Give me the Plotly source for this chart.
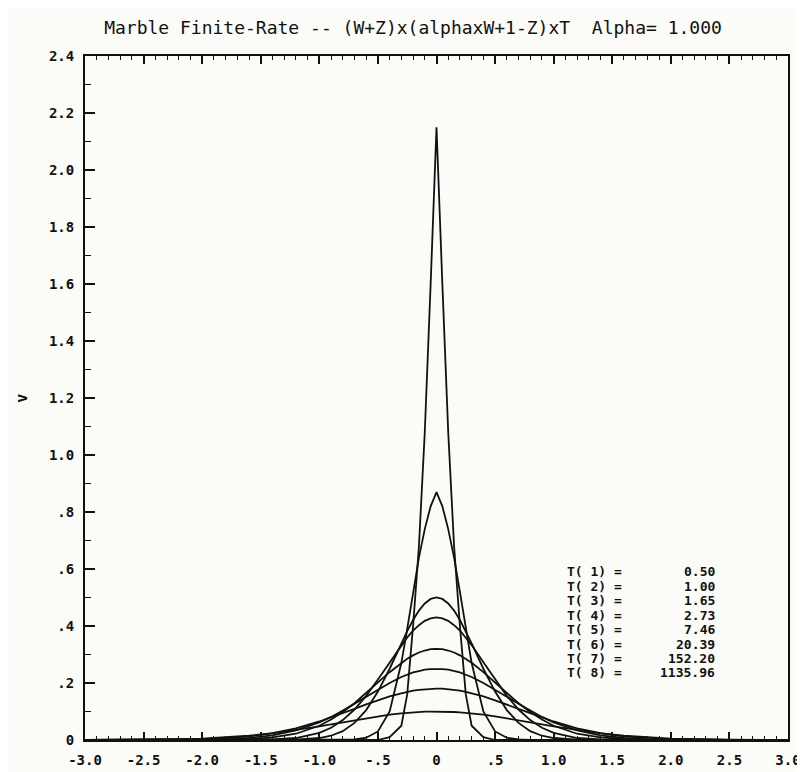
import plotly.graph_objects as go

# ---------------- data ----------------
X = [-3.0, -2.5, -2.0, -1.8, -1.6, -1.4, -1.2, -1.0, -0.9, -0.8, -0.7, -0.6, -0.5, -0.4,
     -0.3, -0.25, -0.2, -0.15, -0.1, -0.05, 0.0, 0.05, 0.1, 0.15, 0.2, 0.25, 0.3, 0.4,
     0.5, 0.6, 0.7, 0.8, 0.9, 1.0, 1.2, 1.4, 1.6, 1.8, 2.0, 2.5, 3.0]

V1 = [0, 0, 0, 0, 0, 0, 0, 0, 0, 0, 0, 0, 0.0, 0.01, 0.05, 0.16, 0.40, 0.68, 1.08, 1.60,
      2.15,
      1.60, 1.08, 0.68, 0.40, 0.16, 0.05, 0.01, 0.0, 0, 0, 0, 0, 0, 0, 0, 0, 0, 0, 0, 0]
V2 = [0, 0, 0, 0, 0, 0, 0, 0, 0, 0, 0.002, 0.008, 0.03, 0.10, 0.27, 0.39, 0.52, 0.64, 0.74, 0.82,
      0.87,
      0.82, 0.74, 0.64, 0.52, 0.39, 0.27, 0.10, 0.03, 0.008, 0.002, 0, 0, 0, 0, 0, 0, 0, 0, 0, 0]
V3 = [0, 0, 0, 0, 0, 0, 0.001, 0.007, 0.015, 0.031, 0.060, 0.105, 0.170, 0.250, 0.339, 0.382, 0.421, 0.454, 0.479, 0.495,
      0.50,
      0.495, 0.479, 0.454, 0.421, 0.382, 0.339, 0.250, 0.170, 0.105, 0.060, 0.031, 0.015, 0.007, 0.001, 0, 0, 0, 0, 0, 0]
V4 = [0, 0, 0, 0, 0, 0.002, 0.007, 0.025, 0.043, 0.070, 0.107, 0.155, 0.212, 0.273, 0.333, 0.360, 0.384, 0.403, 0.418, 0.427,
      0.43,
      0.427, 0.418, 0.403, 0.384, 0.360, 0.333, 0.273, 0.212, 0.155, 0.107, 0.070, 0.043, 0.025, 0.007, 0.002, 0, 0, 0, 0, 0]
V5 = [0, 0, 0, 0.001, 0.003, 0.009, 0.022, 0.050, 0.072, 0.098, 0.129, 0.164, 0.202, 0.238, 0.271, 0.285, 0.297, 0.307, 0.314, 0.319,
      0.32,
      0.319, 0.314, 0.307, 0.297, 0.285, 0.271, 0.238, 0.202, 0.164, 0.129, 0.098, 0.072, 0.050, 0.022, 0.009, 0.003, 0.001, 0, 0, 0]
V6 = [0, 0, 0.001, 0.003, 0.007, 0.016, 0.034, 0.062, 0.081, 0.103, 0.127, 0.152, 0.177, 0.200, 0.221, 0.229, 0.237, 0.242, 0.247, 0.249,
      0.25,
      0.249, 0.247, 0.242, 0.237, 0.229, 0.221, 0.200, 0.177, 0.152, 0.127, 0.103, 0.081, 0.062, 0.034, 0.016, 0.007, 0.003, 0.001, 0, 0]
V7 = [0, 0.0003, 0.003, 0.007, 0.013, 0.024, 0.041, 0.065, 0.079, 0.094, 0.109, 0.125, 0.139, 0.153, 0.164, 0.169, 0.173, 0.176, 0.178, 0.180,
      0.18,
      0.180, 0.178, 0.176, 0.173, 0.169, 0.164, 0.153, 0.139, 0.125, 0.109, 0.094, 0.079, 0.065, 0.041, 0.024, 0.013, 0.007, 0.003, 0.0003, 0]
V8 = [0.0001, 0.0010, 0.0051, 0.0090, 0.0149, 0.0233, 0.0343, 0.0475, 0.0548, 0.0621, 0.0695, 0.0765, 0.0830, 0.0888, 0.0935, 0.0955, 0.0971, 0.0983, 0.0993, 0.0998,
      0.10,
      0.0998, 0.0993, 0.0983, 0.0971, 0.0955, 0.0935, 0.0888, 0.0830, 0.0765, 0.0695, 0.0621, 0.0548, 0.0475, 0.0343, 0.0233, 0.0149, 0.0090, 0.0051, 0.0010, 0.0001]

SERIES = [V1, V2, V3, V4, V5, V6, V7, V8]
T_VALUES = [0.50, 1.00, 1.65, 2.73, 7.46, 20.39, 152.20, 1135.96]

X_TICKS = [-3.0, -2.5, -2.0, -1.5, -1.0, -0.5, 0.0, 0.5, 1.0, 1.5, 2.0, 2.5, 3.0]
X_TICK_TEXT = ["-3.0", "-2.5", "-2.0", "-1.5", "-1.0", "-.5", "0", ".5", "1.0", "1.5", "2.0", "2.5", "3.0"]
Y_TICKS = [0.0, 0.2, 0.4, 0.6, 0.8, 1.0, 1.2, 1.4, 1.6, 1.8, 2.0, 2.2, 2.4]
Y_TICK_TEXT = ["0", ".2", ".4", ".6", ".8", "1.0", "1.2", "1.4", "1.6", "1.8", "2.0", "2.2", "2.4"]

TITLE = "Marble Finite-Rate -- (W+Z)x(alphaxW+1-Z)xT  Alpha= 1.000"
Y_TITLE = "v"

# ---------------- figure ----------------
W, H = 805, 772
ML, MR, MT, MB = 77, 16, 48, 29
BG = "#fbfbf7"
INK = "#111111"
MONO = "DejaVu Sans Mono"

fig = go.Figure()
for vals in SERIES:
    fig.add_trace(go.Scatter(x=X, y=vals, mode="lines",
                             line=dict(color=INK, width=1.8),
                             showlegend=False, hoverinfo="skip"))

pw = W - ML - MR
ph = H - MT - MB

# legend block (T values)
left_px, right_px, top_px, step_px = 563, 717, 572, 14.7
for i, t in enumerate(T_VALUES):
    py = top_px + i * step_px
    yp = (H - MB - py) / ph
    fig.add_annotation(x=(left_px - ML) / pw, y=yp, xref="paper", yref="paper",
                       text=f"T({i + 1:2d}) =", showarrow=False, xanchor="left", yanchor="middle",
                       font=dict(family=MONO, size=13, color=INK, weight="bold"))
    fig.add_annotation(x=(right_px - ML) / pw, y=yp, xref="paper", yref="paper",
                       text=f"{t:.2f}", showarrow=False, xanchor="right", yanchor="middle",
                       font=dict(family=MONO, size=13, color=INK, weight="bold"))

# y-axis title (rotated "v")
fig.add_annotation(x=(13 - ML) / pw, y=0.5, xref="paper", yref="paper",
                   text=Y_TITLE, textangle=-90, showarrow=False,
                   xanchor="center", yanchor="middle",
                   font=dict(family=MONO, size=15, color=INK, weight="bold"))

fig.update_layout(
    width=W, height=H,
    margin=dict(l=ML, r=MR, t=MT, b=MB),
    paper_bgcolor=BG, plot_bgcolor=BG,
    title=dict(text=TITLE, x=405 / W, xref="container", xanchor="center",
               y=1 - 20 / H, yref="container", yanchor="middle",
               font=dict(family=MONO, size=18, color=INK)),
    showlegend=False,
)

fig.update_xaxes(
    range=[-3, 3], tickvals=X_TICKS, ticktext=X_TICK_TEXT,
    ticks="inside", ticklen=8, tickwidth=1.5, tickcolor=INK,
    minor=dict(ticks="inside", dtick=0.1, ticklen=4, tickwidth=1.2, tickcolor=INK),
    showline=True, linewidth=2, linecolor=INK, mirror="ticks",
    showgrid=False, zeroline=False, ticklabelstandoff=6,
    tickfont=dict(family=MONO, size=14, color=INK, weight="bold"),
)
fig.update_yaxes(
    range=[0, 2.4], tickvals=Y_TICKS, ticktext=Y_TICK_TEXT,
    ticks="inside", ticklen=10, tickwidth=1.5, tickcolor=INK,
    minor=dict(ticks="inside", dtick=0.1, ticklen=6, tickwidth=1.2, tickcolor=INK),
    showline=True, linewidth=2, linecolor=INK, mirror=True,
    showgrid=False, zeroline=False, ticklabelstandoff=6,
    tickfont=dict(family=MONO, size=14, color=INK, weight="bold"),
)

fig.write_html("out.html")
